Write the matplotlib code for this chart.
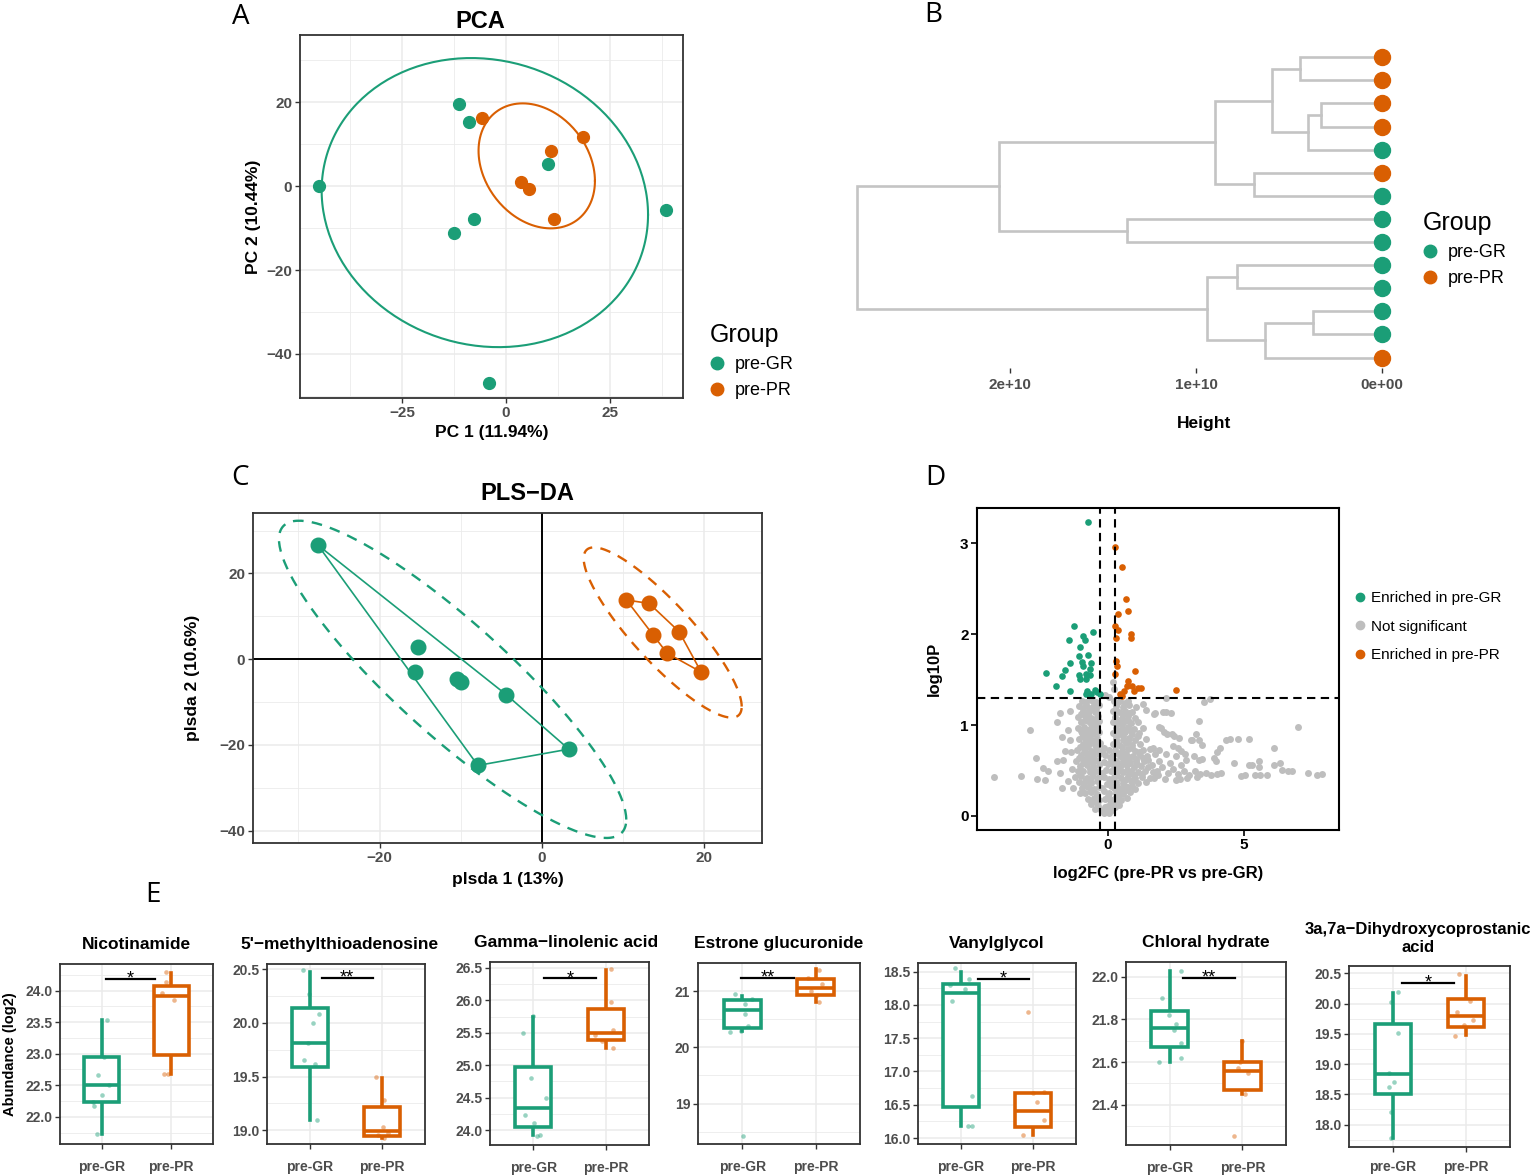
import matplotlib.pyplot as plt
import numpy as np
from matplotlib.lines import Line2D
from matplotlib.ticker import AutoMinorLocator

plt.rcParams['font.family'] = ['Liberation Sans', 'DejaVu Sans']
plt.rcParams['font.weight'] = 'bold'
plt.rcParams['axes.titleweight'] = 'bold'
plt.rcParams['axes.labelweight'] = 'bold'

green = '#1B9E77'
orange = '#D95F02'
grey_pt = '#BEBEBE'
grid_col = '#EBEBEB'
tick_col = '#4D4D4D'
frame_col = '#333333'

# ---- A: PCA scores
pca_gr_x = [-11.2, -8.8, -44.9, 10.1, -7.6, -12.5, 38.3, -4.2]
pca_gr_y = [19.6, 15.2, 0.0, 5.2, -7.8, -11.1, -5.6, -47.0]
pca_pr_x = [-5.8, 18.5, 10.9, 3.5, 5.5, 11.6]
pca_pr_y = [16.2, 11.7, 8.4, 1.0, -0.6, -7.8]

# ---- B: dendrogram (leaves listed top to bottom)
leaf_group = ['PR', 'PR', 'PR', 'PR', 'GR', 'PR', 'GR',
              'GR', 'GR', 'GR', 'GR', 'GR', 'GR', 'PR']
merge_a = [0, 2, 15, 14, 5, 17, 7, 19, 9, 11, 23, 22, 21]
merge_b = [1, 3, 4, 16, 6, 18, 8, 20, 10, 12, 13, 24, 25]
merge_h = [0.44e10, 0.33e10, 0.40e10, 0.59e10, 0.69e10, 0.90e10,
           1.37e10, 2.06e10, 0.78e10, 0.37e10, 0.63e10, 0.94e10, 2.82e10]

# ---- C: PLS-DA scores
pls_gr_x = [-27.6, -15.3, -15.7, -10.5, -10.0, -4.4, 3.3, -7.9]
pls_gr_y = [26.6, 2.8, -3.0, -4.6, -5.4, -8.3, -21.0, -24.8]
pls_pr_x = [10.4, 13.2, 13.7, 16.9, 15.4, 19.6]
pls_pr_y = [13.8, 13.0, 5.7, 6.4, 1.4, -3.0]

# ---- D: volcano
fc_cut = 0.263
p_cut = 1.301
up_gr_fc = [-0.73, -1.24, -0.54, -0.92, -0.85, -1.41, -1.02, -1.07, -0.72, -1.38,
            -0.96, -0.60, -1.56, -0.90, -0.66, -2.25, -1.67, -1.06, -0.81, -0.63,
            -1.03, -0.78, -1.90, -1.39, -0.76, -0.47, -0.80, -0.60, -0.29, -0.39]
up_gr_p = [3.24, 2.09, 2.02, 1.98, 1.94, 1.94, 1.86, 1.76, 1.77, 1.68,
           1.69, 1.68, 1.61, 1.65, 1.62, 1.57, 1.54, 1.55, 1.56, 1.55,
           1.51, 1.51, 1.43, 1.38, 1.38, 1.39, 1.34, 1.34, 1.34, 1.36]
up_pr_fc = [0.28, 0.51, 0.66, 0.75, 0.39, 0.28, 0.39, 0.85, 0.86, 0.32, 0.32, 0.34,
            0.28, 1.01, 0.74, 0.71, 0.88, 1.11, 1.23, 0.95, 0.44, 0.60, 2.51, 0.52]
up_pr_p = [2.96, 2.74, 2.39, 2.26, 2.22, 2.09, 2.05, 2.00, 1.96, 1.96, 1.71, 1.65,
           1.56, 1.59, 1.49, 1.43, 1.43, 1.41, 1.41, 1.37, 1.34, 1.38, 1.39, 1.32]

ns_left = [
    (-0.95, 1.27), (-0.62, 1.28), (-0.41, 1.25),
    (-1.05, 1.21), (-0.80, 1.22), (-0.55, 1.20), (-0.33, 1.22),
    (-0.92, 1.15), (-0.70, 1.16), (-0.46, 1.14),
    (-1.08, 1.09), (-0.85, 1.10), (-0.60, 1.08), (-0.36, 1.10),
    (-0.97, 1.03), (-0.74, 1.04), (-0.50, 1.02), (-0.30, 1.04),
    (-1.10, 0.97), (-0.86, 0.98), (-0.63, 0.96), (-0.41, 0.98),
    (-0.95, 0.91), (-0.72, 0.92), (-0.52, 0.90), (-0.30, 0.92),
    (-1.04, 0.85), (-0.83, 0.86), (-0.60, 0.84), (-0.38, 0.86),
    (-0.92, 0.79), (-0.70, 0.80), (-0.47, 0.78), (-0.28, 0.80),
    (-1.12, 0.73), (-0.85, 0.74), (-0.62, 0.72), (-0.40, 0.74),
    (-0.98, 0.67), (-0.75, 0.68), (-0.52, 0.66), (-0.30, 0.68),
    (-1.15, 0.61), (-0.88, 0.62), (-0.64, 0.60), (-0.42, 0.62),
    (-1.00, 0.55), (-0.77, 0.56), (-0.55, 0.54), (-0.33, 0.56),
    (-1.10, 0.49), (-0.90, 0.50), (-0.66, 0.48), (-0.44, 0.50),
    (-1.20, 0.43), (-0.98, 0.44), (-0.76, 0.42), (-0.54, 0.44), (-0.32, 0.43),
    (-1.05, 0.37), (-0.84, 0.38), (-0.62, 0.36), (-0.40, 0.38),
    (-0.95, 0.31), (-0.72, 0.32), (-0.50, 0.30), (-0.30, 0.32),
    (-0.85, 0.25), (-0.62, 0.26), (-0.40, 0.24),
    (-0.72, 0.19), (-0.50, 0.20), (-0.30, 0.18),
    (-0.60, 0.13), (-0.40, 0.14), (-0.45, 0.08), (-0.25, 0.07), (-0.15, 0.03),
    (-0.78, 1.25), (-0.50, 1.24), (-0.92, 1.19), (-0.67, 1.19), (-0.44, 1.18),
    (-0.97, 1.12), (-0.72, 1.12), (-0.48, 1.07), (-0.85, 1.06), (-0.62, 1.01),
    (-0.40, 1.01), (-0.98, 0.94), (-0.75, 0.95), (-0.45, 0.94), (-0.92, 0.88),
    (-0.70, 0.88), (-0.49, 0.82), (-0.80, 0.82), (-1.00, 0.76), (-0.73, 0.77),
    (-0.50, 0.71), (-0.87, 0.70), (-1.05, 0.64), (-0.76, 0.65), (-0.53, 0.59),
    (-0.90, 0.58), (-0.66, 0.52), (-1.00, 0.47), (-0.65, 0.40), (-0.86, 0.34),
    (-0.60, 0.28), (-0.55, 0.17), (-0.35, 0.11),
]
ns_mid = [
    (-0.12, 0.75), (0.05, 0.73), (-0.08, 0.67), (0.08, 0.65), (-0.15, 0.59),
    (0.02, 0.57), (-0.05, 0.51), (0.12, 0.49), (-0.12, 0.43), (0.04, 0.41),
    (-0.02, 0.35), (0.14, 0.33), (-0.15, 0.27), (0.05, 0.25), (-0.08, 0.19),
    (0.10, 0.17), (0.02, 0.11), (-0.10, 0.10), (0.05, 0.03),
    (-0.20, 0.70), (0.12, 0.60), (-0.20, 0.47), (0.10, 0.38), (-0.20, 0.31),
    (0.00, 0.22), (-0.05, 0.06),
    (0.19, 1.47), (0.22, 1.40), (-0.10, 1.33), (0.05, 1.31),
]
ns_right = [
    (0.22, 1.27), (0.45, 1.26), (0.75, 1.27),
    (0.30, 1.21), (0.55, 1.20), (0.80, 1.22), (1.05, 1.20),
    (0.20, 1.15), (0.42, 1.14), (0.65, 1.16), (0.90, 1.14),
    (0.28, 1.09), (0.52, 1.08), (0.75, 1.10), (1.00, 1.08),
    (0.18, 1.03), (0.40, 1.02), (0.62, 1.04), (0.85, 1.02), (1.10, 1.03),
    (0.30, 0.97), (0.52, 0.96), (0.75, 0.98), (0.98, 0.96), (1.30, 0.97),
    (0.20, 0.91), (0.42, 0.90), (0.65, 0.92), (0.88, 0.90), (1.15, 0.91),
    (0.30, 0.85), (0.55, 0.84), (0.78, 0.86), (1.02, 0.84), (1.40, 0.85),
    (0.18, 0.79), (0.42, 0.78), (0.66, 0.80), (0.90, 0.78), (1.20, 0.79),
    (0.28, 0.73), (0.52, 0.72), (0.76, 0.74), (1.00, 0.72), (1.30, 0.73), (1.55, 0.74),
    (0.20, 0.67), (0.44, 0.66), (0.68, 0.68), (0.92, 0.66), (1.18, 0.67), (1.45, 0.66),
    (0.30, 0.61), (0.55, 0.60), (0.80, 0.62), (1.05, 0.60), (1.35, 0.61),
    (0.22, 0.55), (0.46, 0.54), (0.70, 0.56), (0.95, 0.54), (1.22, 0.55), (1.50, 0.54),
    (0.32, 0.49), (0.58, 0.48), (0.84, 0.50), (1.10, 0.48), (1.38, 0.49), (1.65, 0.48),
    (0.22, 0.43), (0.48, 0.42), (0.74, 0.44), (1.00, 0.42), (1.28, 0.43), (1.55, 0.42),
    (0.32, 0.37), (0.58, 0.36), (0.85, 0.38), (1.12, 0.36), (1.40, 0.37),
    (0.22, 0.31), (0.48, 0.30), (0.75, 0.32), (1.02, 0.30),
    (0.30, 0.25), (0.55, 0.24), (0.82, 0.26),
    (0.25, 0.19), (0.50, 0.18), (0.72, 0.20),
    (0.20, 0.13), (0.42, 0.12), (0.15, 0.07),
    (0.35, 1.24), (0.62, 1.24), (0.32, 1.17), (0.55, 1.12), (0.78, 1.13),
    (0.30, 1.05), (0.52, 1.00), (0.73, 1.06), (0.40, 0.93), (0.63, 0.95),
    (0.86, 0.94), (0.32, 0.88), (0.55, 0.88), (0.76, 0.82), (1.10, 0.88),
    (0.30, 0.82), (0.54, 0.76), (0.88, 0.75), (1.15, 0.70), (0.32, 0.70),
    (0.56, 0.64), (0.80, 0.65), (1.05, 0.63), (1.30, 0.64), (0.34, 0.58),
    (0.58, 0.57), (0.82, 0.58), (1.08, 0.57), (0.45, 0.51), (0.70, 0.51),
    (0.97, 0.45), (1.25, 0.46), (0.35, 0.45), (0.62, 0.40), (0.98, 0.39),
    (0.36, 0.33), (0.62, 0.33), (0.88, 0.33), (0.42, 0.27), (0.68, 0.28),
    (0.38, 0.21), (0.32, 0.15), (0.28, 0.10),
]
ns_tail = [
    (1.62, 0.56), (1.80, 0.50), (2.00, 0.54), (2.20, 0.47), (2.40, 0.52), (2.60, 0.46),
    (2.80, 0.50), (3.00, 0.45), (3.20, 0.49), (3.40, 0.46), (3.62, 0.47), (1.72, 0.42),
    (2.10, 0.41), (2.50, 0.40), (2.90, 0.42), (3.30, 0.43), (3.80, 0.45), (1.50, 0.62),
    (1.90, 0.60), (2.30, 0.58), (2.70, 0.56), (1.75, 0.68), (1.85, 0.45), (2.65, 0.41),
]
ns_sparse_right = [
    (2.14, 1.30), (3.54, 1.25), (3.76, 1.29), (1.75, 1.13), (2.02, 1.14), (2.14, 1.14),
    (3.36, 1.04), (7.00, 0.98), (1.87, 0.98), (2.06, 0.92), (2.19, 0.90), (2.43, 0.88),
    (3.23, 0.90), (3.09, 0.84), (3.36, 0.84), (3.48, 0.78), (4.33, 0.84), (4.51, 0.85),
    (4.79, 0.85), (5.20, 0.85), (6.12, 0.75), (4.12, 0.75), (4.03, 0.70), (3.90, 0.64),
    (3.97, 0.60), (2.41, 0.77), (2.59, 0.75), (2.71, 0.72), (2.83, 0.68), (3.36, 0.62),
    (3.48, 0.63), (4.64, 0.58), (5.18, 0.56), (5.30, 0.56), (5.57, 0.60), (5.57, 0.54),
    (6.13, 0.56), (6.34, 0.58), (6.40, 0.51), (6.64, 0.49), (6.76, 0.49), (7.37, 0.47),
    (7.68, 0.45), (7.86, 0.46), (4.91, 0.44), (5.06, 0.45), (5.43, 0.45), (5.60, 0.45),
    (5.84, 0.45), (4.03, 0.46), (4.15, 0.47), (1.29, 1.23), (1.41, 1.17), (1.72, 1.12),
    (2.33, 1.13), (1.96, 0.97), (2.38, 0.90), (2.63, 0.86), (1.65, 0.75), (1.90, 0.73),
    (2.14, 0.68), (2.51, 0.66), (2.87, 0.62), (3.18, 0.66), (3.07, 0.84),
]
ns_sparse_left = [
    (-4.16, 0.43), (-3.19, 0.44), (-2.87, 0.95), (-2.63, 0.64), (-2.60, 0.41), (-2.36, 0.53),
    (-2.18, 0.49), (-2.30, 0.40), (-1.87, 1.03), (-1.75, 1.13), (-1.39, 1.15), (-1.45, 0.95),
    (-1.68, 0.87), (-1.39, 0.84), (-1.57, 0.71), (-1.63, 0.62), (-1.87, 0.60), (-1.75, 0.47),
    (-1.68, 0.31), (-1.45, 0.38), (-1.27, 0.31), (-1.03, 0.25), (-1.30, 0.52), (-1.35, 0.70),
]

# ---- E: boxplots  (whislo, q1, median, q3, whishi)
box_titles = ['Nicotinamide', "5'\u2212methylthioadenosine", 'Gamma\u2212linolenic acid',
              'Estrone glucuronide', 'Vanylglycol', 'Chloral hydrate',
              '3a,7a\u2212Dihydroxycoprostanic\nacid']
box_gr = [[21.73, 22.23, 22.50, 22.94, 23.53],
          [19.09, 19.59, 19.81, 20.14, 20.48],
          [23.92, 24.05, 24.34, 24.97, 25.75],
          [20.29, 20.35, 20.66, 20.85, 20.92],
          [16.18, 16.46, 18.18, 18.32, 18.49],
          [21.60, 21.67, 21.76, 21.84, 22.03],
          [17.78, 18.51, 18.83, 19.66, 20.18]]
box_pr = [[22.68, 22.98, 23.91, 24.07, 24.28],
          [18.93, 18.94, 18.99, 19.22, 19.49],
          [25.27, 25.39, 25.49, 25.86, 26.46],
          [20.80, 20.93, 21.06, 21.21, 21.39],
          [16.04, 16.16, 16.41, 16.68, 16.68],
          [21.45, 21.47, 21.56, 21.60, 21.70],
          [19.48, 19.61, 19.80, 20.08, 20.45]]
pts_gr = [[23.53, 22.95, 22.66, 22.50, 22.34, 22.24, 22.17, 21.73],
          [20.49, 20.27, 20.08, 20.00, 19.81, 19.65, 19.62, 19.09],
          [25.76, 25.50, 24.80, 24.49, 24.23, 24.11, 23.91, 23.92],
          [20.94, 20.86, 20.77, 20.60, 20.38, 20.28, 20.29, 18.43],
          [18.55, 18.39, 18.30, 18.24, 18.06, 16.63, 16.18, 16.18],
          [22.03, 21.90, 21.82, 21.78, 21.75, 21.69, 21.62, 21.60],
          [20.19, 20.03, 19.52, 18.86, 18.70, 18.62, 18.20, 17.78]]
jit_gr = [[0.08, 0.03, -0.05, 0.10, 0.01, -0.13, -0.11, -0.07],
          [-0.10, -0.01, 0.12, 0.04, -0.03, -0.08, 0.07, 0.09],
          [0.00, -0.14, -0.03, 0.17, -0.11, 0.01, 0.05, 0.09],
          [-0.10, 0.13, 0.04, 0.04, 0.08, -0.17, -0.01, 0.01],
          [-0.08, 0.11, -0.16, 0.05, -0.13, 0.15, 0.10, 0.15],
          [0.15, -0.11, -0.01, 0.09, 0.06, 0.16, 0.15, -0.15],
          [0.07, -0.03, 0.07, -0.05, 0.01, -0.06, -0.03, -0.03]]
pts_pr = [[24.30, 24.13, 23.96, 23.85, 22.68, 22.68],
          [19.50, 19.28, 19.03, 18.97, 18.95, 18.93],
          [26.48, 25.97, 25.54, 25.47, 25.37, 25.26],
          [21.37, 21.24, 21.13, 21.00, 20.93, 20.81],
          [17.90, 16.69, 16.68, 16.54, 16.27, 16.04],
          [21.70, 21.60, 21.57, 21.55, 21.45, 21.25],
          [20.48, 20.05, 19.86, 19.72, 19.65, 19.46]]
jit_pr = [[-0.08, -0.08, -0.14, 0.04, -0.10, -0.05],
          [-0.08, 0.03, 0.01, 0.08, -0.06, 0.03],
          [0.08, 0.08, 0.10, -0.15, -0.05, 0.10],
          [0.04, -0.10, 0.08, -0.06, 0.01, 0.04],
          [-0.07, 0.15, 0.00, 0.06, 0.15, -0.14],
          [0.00, -0.03, -0.06, 0.08, 0.03, -0.12],
          [-0.10, 0.06, -0.12, 0.10, -0.03, -0.15]]
sig_stars = ['*', '**', '*', '**', '*', '**', '*']
sig_y = [24.19, 20.42, 26.34, 21.24, 18.39, 21.995, 20.34]
box_ylim = [(21.57, 24.42), (18.87, 20.55), (23.77, 26.59), (18.28, 21.5),
            (15.91, 18.63), (21.21, 22.07), (17.63, 20.62)]
box_ticks = [[22, 22.5, 23, 23.5, 24], [19, 19.5, 20, 20.5], [24, 24.5, 25, 25.5, 26, 26.5],
             [19, 20, 21], [16, 16.5, 17, 17.5, 18, 18.5], [21.4, 21.6, 21.8, 22.0],
             [18, 18.5, 19, 19.5, 20, 20.5]]
box_fmt = ['%.1f', '%.1f', '%.1f', '%d', '%.1f', '%.1f', '%.1f']

W, H = 1535, 1175
fig = plt.figure(figsize=(W / 100, H / 100), dpi=100)


def rect(x0, y0, x1, y1):
    return [x0 / W, 1 - y1 / H, (x1 - x0) / W, (y1 - y0) / H]


def gg_style(ax, size=11):
    for s in ax.spines.values():
        s.set_color(frame_col)
        s.set_linewidth(1.3)
    ax.tick_params(which='major', color=frame_col, labelcolor=tick_col,
                   length=3.5, width=1, labelsize=size, pad=2)
    ax.tick_params(which='minor', length=0)
    ax.grid(which='major', color=grid_col, lw=1.1)
    ax.grid(which='minor', color=grid_col, lw=0.6)
    ax.set_axisbelow(True)


def ellipse_xy(x, y, k):
    pts = np.column_stack([x, y])
    c = pts.mean(axis=0)
    L = np.linalg.cholesky(np.cov(pts.T))
    t = np.linspace(0, 2 * np.pi, 240)
    e = c[:, None] + k * L @ np.vstack([np.cos(t), np.sin(t)])
    return e[0], e[1]


def hull_xy(x, y):
    pts = sorted(zip(x, y))

    def cross(o, a, b):
        return (a[0] - o[0]) * (b[1] - o[1]) - (a[1] - o[1]) * (b[0] - o[0])
    lower, upper = [], []
    for p in pts:
        while len(lower) >= 2 and cross(lower[-2], lower[-1], p) <= 0:
            lower.pop()
        lower.append(p)
    for p in reversed(pts):
        while len(upper) >= 2 and cross(upper[-2], upper[-1], p) <= 0:
            upper.pop()
        upper.append(p)
    h = lower[:-1] + upper[:-1]
    h.append(h[0])
    return [p[0] for p in h], [p[1] for p in h]


def letter(x, y, s):
    fig.text(x / W, 1 - y / H, s, fontsize=20, fontweight='normal',
             family=['Open Sans', 'DejaVu Sans'], ha='center', va='center')


def group_legend(x, y):
    hs = [Line2D([], [], ls='', marker='o', ms=9, color=green),
          Line2D([], [], ls='', marker='o', ms=9, color=orange)]
    leg = fig.legend(hs, ['pre-GR', 'pre-PR'], title='Group', loc='upper left',
                     bbox_to_anchor=(x / W, 1 - y / H), frameon=False,
                     prop=dict(size=13, weight='normal'),
                     title_fontproperties=dict(size=18, weight='normal'),
                     handlelength=0.8, handletextpad=0.6, labelspacing=0.5,
                     borderpad=0, borderaxespad=0)
    leg._legend_box.align = 'left'


# ================= A
ax = fig.add_axes(rect(300, 35, 683, 398))
gg_style(ax)
for xs, ys, col in [(pca_gr_x, pca_gr_y, green), (pca_pr_x, pca_pr_y, orange)]:
    ex, ey = ellipse_xy(xs, ys, 1.68)
    ax.plot(ex, ey, color=col, lw=1.5)
    ax.plot(xs, ys, 'o', color=col, ms=8.5, ls='')
ax.set_xlim(-49.5, 42.5)
ax.set_ylim(-50.5, 36)
ax.set_xticks([-25, 0, 25])
ax.set_yticks([-40, -20, 0, 20])
ax.xaxis.set_minor_locator(AutoMinorLocator(2))
ax.yaxis.set_minor_locator(AutoMinorLocator(2))
ax.set_title('PCA', fontsize=17, pad=5, x=0.47)
ax.set_xlabel('PC 1 (11.94%)', fontsize=12.5, labelpad=4)
ax.set_ylabel('PC 2 (10.44%)', fontsize=12.5, labelpad=4)
group_legend(710, 323)
letter(241, 17, 'A')

# ================= B
ax = fig.add_axes(rect(845, 45, 1395, 368))
n_leaf = len(leaf_group)
node_y = {i: float(i) for i in range(n_leaf)}
node_h = {i: 0.0 for i in range(n_leaf)}
for k, (a, b, h) in enumerate(zip(merge_a, merge_b, merge_h)):
    ax.plot([node_h[a], h, h, node_h[b]], [node_y[a], node_y[a], node_y[b], node_y[b]],
            color='#C4C4C4', lw=1.9, solid_joinstyle='miter')
    node_y[n_leaf + k] = (node_y[a] + node_y[b]) / 2
    node_h[n_leaf + k] = h
for i, g in enumerate(leaf_group):
    ax.plot(0, i, 'o', ms=11.5, color=green if g == 'GR' else orange)
ax.set_xlim(2.887e10, -0.07e10)
ax.set_ylim(13.45, -0.53)
for s in ax.spines.values():
    s.set_visible(False)
ax.set_yticks([])
ax.set_xticks([2e10, 1e10, 0])
ax.set_xticklabels(['2e+10', '1e+10', '0e+00'])
ax.tick_params(axis='x', color=frame_col, labelcolor=tick_col, length=3.5, width=1,
               labelsize=11, pad=4)
ax.set_xlabel('Height', fontsize=12.5)
ax.xaxis.set_label_coords((1204 - 845) / 550, -(424 - 368) / 323)
ax.xaxis.label.set_va('center')
group_legend(1423, 211)
letter(933, 15, 'B')

# ================= C
ax = fig.add_axes(rect(253, 513, 762, 843))
gg_style(ax)
ax.axhline(0, color='black', lw=1.4, zorder=1)
ax.axvline(0, color='black', lw=1.4, zorder=1)
for xs, ys, col, k in [(pls_gr_x, pls_gr_y, green, 2.36), (pls_pr_x, pls_pr_y, orange, 3.05)]:
    ex, ey = ellipse_xy(xs, ys, k)
    ax.plot(ex, ey, color=col, lw=1.7, ls=(0, (4.5, 3.5)))
    hx, hy = hull_xy(xs, ys)
    ax.plot(hx, hy, color=col, lw=1.2)
    ax.plot(xs, ys, 'o', color=col, ms=10.5, ls='')
ax.set_xlim(-35.6, 27.1)
ax.set_ylim(-42.9, 34.1)
ax.set_xticks([-20, 0, 20])
ax.set_yticks([-40, -20, 0, 20])
ax.xaxis.set_minor_locator(AutoMinorLocator(2))
ax.yaxis.set_minor_locator(AutoMinorLocator(2))
ax.set_title('PLS\u2212DA', fontsize=17, pad=9, x=0.538)
ax.set_xlabel('plsda 1 (13%)', fontsize=12.5, labelpad=5)
ax.set_ylabel('plsda 2 (10.6%)', fontsize=12.5, labelpad=14)
letter(240, 478, 'C')

# ================= D
ax = fig.add_axes(rect(977, 508, 1339, 830))
ns = ns_left + ns_mid + ns_right + ns_tail + ns_sparse_right + ns_sparse_left
ax.scatter([p[0] for p in ns], [p[1] for p in ns], s=25, c=grey_pt, lw=0, zorder=2)
ax.scatter(up_gr_fc, up_gr_p, s=23, c=green, lw=0, zorder=3)
ax.scatter(up_pr_fc, up_pr_p, s=23, c=orange, lw=0, zorder=3)
dash = (0, (4, 2.6))
ax.axvline(-fc_cut, color='black', lw=1.5, ls=dash, zorder=4)
ax.axvline(fc_cut, color='black', lw=1.5, ls=dash, zorder=4)
ax.axhline(p_cut, color='black', lw=1.5, ls=dash, zorder=4)
ax.set_xlim(-4.8, 8.5)
ax.set_ylim(-0.155, 3.39)
ax.set_xticks([0, 5])
ax.set_yticks([0, 1, 2, 3])
for s in ax.spines.values():
    s.set_linewidth(1.5)
ax.tick_params(color='black', labelcolor='black', length=4, width=1.2, labelsize=11, pad=2)
ax.set_xlabel('log2FC (pre-PR vs pre-GR)', fontsize=12, labelpad=10)
ax.set_ylabel('log10P', fontsize=12, labelpad=13)
hs = [Line2D([], [], ls='', marker='o', ms=6, color=c) for c in (green, grey_pt, orange)]
fig.legend(hs, ['Enriched in pre-GR', 'Not significant', 'Enriched in pre-PR'],
           loc='upper left', bbox_to_anchor=(1355 / W, 1 - 591 / H), frameon=False,
           prop=dict(size=11, weight='normal'), handlelength=0.6, handletextpad=0.45,
           labelspacing=0.95, borderpad=0, borderaxespad=0)
letter(935, 478, 'D')

# ================= E
box_axes = [(60, 964, 213, 1144), (267, 964, 425, 1144), (490, 962, 649, 1145),
            (698, 963, 860, 1144), (918, 963, 1076, 1144), (1126, 962, 1286, 1145),
            (1349, 966, 1510, 1147)]
sig_x0 = [1.06, 1.16, 1.15, 0.99, 1.23, 1.19, 1.13]
title_x = [0.5, 0.46, 0.48, 0.5, 0.5, 0.5, 0.43]
for i, bounds in enumerate(box_axes):
    ax = fig.add_axes(rect(*bounds))
    gg_style(ax, size=10)
    stats = [dict(whislo=b[0], q1=b[1], med=b[2], q3=b[3], whishi=b[4], fliers=[])
             for b in (box_gr[i], box_pr[i])]
    bp = ax.bxp(stats, positions=[1, 2], widths=0.5, showfliers=False, showcaps=False,
                patch_artist=True)
    for j, col in enumerate([green, orange]):
        bp['boxes'][j].set(facecolor='white', edgecolor=col, lw=2.6, zorder=2)
        bp['medians'][j].set(color=col, lw=2.6, zorder=3, solid_capstyle='butt')
        for w in bp['whiskers'][2 * j:2 * j + 2]:
            w.set(color=col, lw=2.6, zorder=1)
    ax.plot(1 + np.array(jit_gr[i]), pts_gr[i], 'o', ms=3.3, color=green, alpha=0.45,
            mew=0, zorder=4)
    ax.plot(2 + np.array(jit_pr[i]), pts_pr[i], 'o', ms=3.3, color=orange, alpha=0.45,
            mew=0, zorder=4)
    x0 = sig_x0[i]
    ax.plot([x0, x0 + 0.71], [sig_y[i], sig_y[i]], color='black', lw=1.6, zorder=5)
    ax.annotate(sig_stars[i], (x0 + 0.355, sig_y[i]), xytext=(0, -3.5),
                textcoords='offset points', ha='center', va='baseline', fontsize=13,
                fontweight='normal', zorder=5)
    ax.set_xlim(0.4, 2.6)
    ax.set_ylim(*box_ylim[i])
    ax.set_xticks([1, 2])
    ax.set_xticklabels(['pre-GR', 'pre-PR'])
    ax.set_yticks(box_ticks[i])
    ax.set_yticklabels([box_fmt[i] % v for v in box_ticks[i]])
    ax.yaxis.set_minor_locator(AutoMinorLocator(2))
    ax.tick_params(axis='x', pad=6 if i == 6 else 8)
    if i == 6:
        ax.set_title(box_titles[i], fontsize=12, pad=10, linespacing=1.3, x=title_x[i])
    else:
        ax.set_title(box_titles[i], fontsize=12.5, pad=11, x=title_x[i])
    if i == 0:
        ax.set_ylabel('Abundance (log2)', fontsize=10.5, labelpad=6)
letter(153, 895, 'E')

fig.savefig('out.png', dpi=100)
